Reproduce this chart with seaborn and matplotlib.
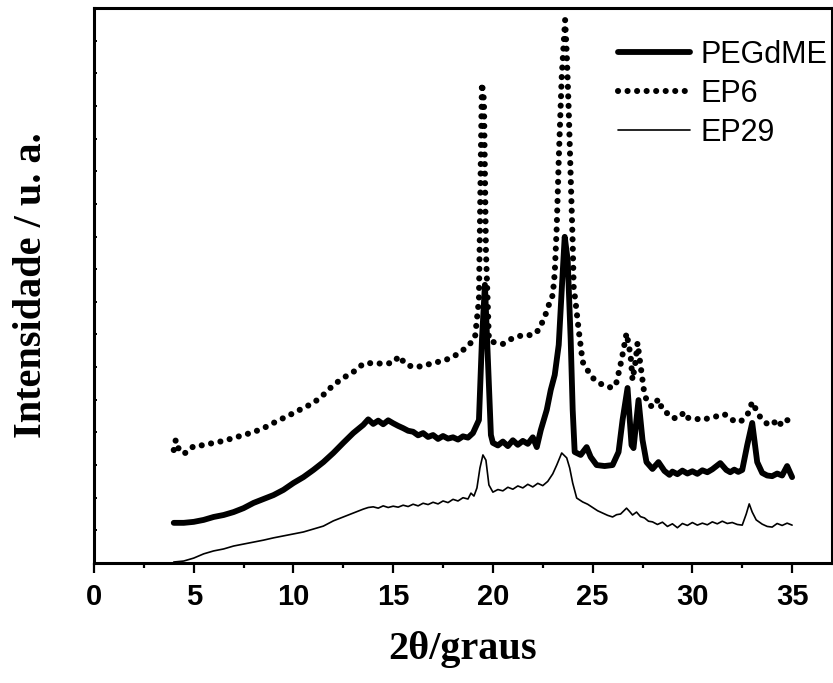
import matplotlib
matplotlib.use("Agg")
import matplotlib.pyplot as plt
from matplotlib.ticker import MultipleLocator, NullFormatter
import seaborn as sns
import pandas as pd

# 2-theta positions (degrees) and intensities (arbitrary units) for each sample
peg_x = [4.0, 4.5, 5.0, 5.5, 6.0, 6.5, 7.0, 7.5, 8.0, 8.5, 9.0, 9.5, 10.0, 10.5, 11.0,
         11.5, 12.0, 12.5, 13.0, 13.5, 13.75, 14.0, 14.25, 14.5, 14.75, 15.0, 15.25,
         15.5, 15.75, 16.0, 16.25, 16.5, 16.75, 17.0, 17.25, 17.5, 17.75, 18.0, 18.25,
         18.5, 18.75, 19.0, 19.3, 19.45, 19.6, 19.75, 19.9, 20.0, 20.25, 20.5, 20.75,
         21.0, 21.25, 21.5, 21.75, 22.0, 22.2, 22.4, 22.7, 22.9, 23.1, 23.3, 23.45, 23.6,
         23.75, 23.9, 24.0, 24.1, 24.4, 24.7, 24.9, 25.2, 25.6, 26.0, 26.3, 26.5, 26.75,
         26.95, 27.05, 27.3, 27.5, 27.7, 28.0, 28.3, 28.6, 28.85, 29.0, 29.25, 29.5,
         29.75, 30.0, 30.25, 30.5, 30.75, 31.0, 31.4, 31.7, 31.9, 32.1, 32.3, 32.5,
         32.75, 33.0, 33.25, 33.5, 33.75, 34.0, 34.25, 34.5, 34.75, 35.0]
peg_y = [123, 123, 126, 132, 141, 147, 156, 168, 184, 196, 208, 224, 245, 263, 285,
         309, 337, 368, 398, 423, 440, 426, 436, 425, 437, 428, 420,
         413, 405, 402, 391, 398, 386, 392, 380, 389, 381, 385, 378,
         388, 384, 398, 438, 683, 852, 622, 392, 368, 360, 372, 358,
         376, 362, 374, 365, 385, 355, 407, 469, 530, 576, 668, 836, 999,
         928, 683, 469, 340, 331, 355, 325, 300, 297, 300, 340, 438, 536,
         361, 352, 499, 377, 309, 288, 309, 282, 270, 280, 272, 283,
         274, 281, 273, 284, 278, 287, 306, 285, 278, 286, 279, 285,
         361, 429, 309, 276, 268, 266, 274, 268, 297, 263]

ep6_x = [4.0, 4.1, 4.3, 4.6, 5.0, 5.5, 6.0, 6.5, 7.0, 7.5, 8.0, 8.5, 9.0, 9.5, 10.0,
         10.5, 11.0, 11.5, 12.0, 12.5, 13.0, 13.5, 14.0, 14.5, 15.0, 15.3, 15.6, 16.0,
         16.5, 17.0, 17.5, 18.0, 18.5, 18.8, 19.1, 19.3, 19.4, 19.45, 19.55, 19.65, 19.8,
         20.0, 20.5, 21.0, 21.5, 22.0, 22.3, 22.6, 22.8, 23.0, 23.1, 23.2, 23.3, 23.45,
         23.55, 23.62, 23.7, 23.8, 23.9, 24.0, 24.05, 24.15, 24.3, 24.5, 24.8, 25.0, 25.5,
         26.0, 26.2, 26.45, 26.7, 26.9, 27.0, 27.15, 27.25, 27.4, 27.6, 27.8, 28.0, 28.3,
         28.5, 28.8, 29.0, 29.3, 29.6, 29.8, 30.0, 30.5, 31.0, 31.3, 31.6, 32.0, 32.4,
         32.6, 32.8, 33.0, 33.2, 33.4, 33.8, 34.1, 34.3, 34.6, 35.0]
ep6_y = [346, 377, 340, 337, 358, 361, 368, 374, 383, 392, 401, 413, 429, 444, 459,
         475, 490, 515, 545, 567, 585, 610, 613, 610, 613, 634, 610, 600,
         603, 613, 619, 631, 652, 668, 689, 806, 1265, 1470, 1418, 959, 683,
         677, 671, 689, 698, 698, 714, 754, 790, 821, 888, 1029, 1234, 1489,
         1593, 1663, 1562, 1388, 1182, 980, 845, 796, 714, 616, 585, 567, 545,
         536, 554, 622, 704, 637, 561, 616, 674, 606, 515, 487, 478, 502,
         469, 456, 444, 444, 462, 444, 444, 438, 447, 450, 456, 438, 432,
         444, 459, 493, 469, 447, 423, 432, 417, 441, 432]

ep29_x = [4.0, 4.5, 5.0, 5.5, 6.0, 6.5, 7.0, 7.5, 8.0, 8.5, 9.0, 9.5, 10.0, 10.5, 11.0,
          11.5, 12.0, 12.5, 13.0, 13.5, 13.75, 14.0, 14.25, 14.5, 14.75, 15.0, 15.25,
          15.5, 15.75, 16.0, 16.25, 16.5, 16.75, 17.0, 17.25, 17.5, 17.75, 18.0, 18.25,
          18.5, 18.75, 18.9, 19.05, 19.2, 19.35, 19.5, 19.65, 19.8, 20.0, 20.25, 20.5,
          20.75, 21.0, 21.25, 21.5, 21.75, 22.0, 22.25, 22.5, 22.75, 23.0, 23.2, 23.45,
          23.7, 23.85, 24.0, 24.2, 24.5, 24.75, 25.0, 25.25, 25.5, 25.75, 26.0, 26.2,
          26.4, 26.7, 26.85, 27.0, 27.2, 27.4, 27.6, 27.8, 28.0, 28.25, 28.5, 28.75,
          29.0, 29.25, 29.5, 29.75, 30.0, 30.25, 30.5, 30.75, 31.0, 31.25, 31.5, 31.75,
          32.0, 32.25, 32.5, 32.7, 32.85, 33.0, 33.2, 33.5, 33.75, 34.0, 34.25, 34.5,
          34.75, 35.0]
ep29_y = [3, 6, 15, 28, 37, 43, 52, 58, 64, 70, 77, 83, 89, 95, 104,
          113, 129, 141, 153, 165, 170, 172, 168, 175, 170, 174, 171,
          177, 173, 180, 175, 183, 179, 186, 181, 190, 185, 195, 190,
          200, 196, 214, 205, 230, 291, 331, 315, 239, 217, 225, 221,
          232, 226, 236, 230, 241, 233, 244, 237, 250, 273, 300, 337,
          322, 291, 245, 199, 187, 180, 170, 160, 153, 146, 141, 148,
          150, 168, 158, 147, 156, 142, 138, 128, 126, 118, 125, 112,
          120, 108, 121, 115, 124, 116, 122, 117, 126, 120, 128, 121,
          124, 118, 116, 150, 181, 156, 132, 119, 112, 110, 121, 115,
          122, 116]

labels = ["PEGdME", "EP6", "EP29"]

sns.set_theme(style="ticks")
plt.rcParams["font.family"] = ["Liberation Sans", "DejaVu Sans"]
plt.rcParams["text.color"] = "black"
plt.rcParams["axes.labelcolor"] = "black"
plt.rcParams["xtick.color"] = "black"
plt.rcParams["ytick.color"] = "black"
plt.rcParams["axes.edgecolor"] = "black"

fig = plt.figure(figsize=(8.33, 6.83), dpi=100)
ax = fig.add_axes([0.1128, 0.1757, 0.886, 0.8126])

peg = pd.DataFrame({"x": peg_x, "y": peg_y})
ep6 = pd.DataFrame({"x": ep6_x, "y": ep6_y})
ep29 = pd.DataFrame({"x": ep29_x, "y": ep29_y})

sns.lineplot(data=peg, x="x", y="y", ax=ax, color="black", lw=4.2,
             estimator=None, sort=False, label=labels[0])
sns.lineplot(data=ep6, x="x", y="y", ax=ax, color="black", lw=4.4,
             estimator=None, sort=False, label=labels[1])
sns.lineplot(data=ep29, x="x", y="y", ax=ax, color="black", lw=1.2,
             estimator=None, sort=False, label=labels[2])

dotted = ax.lines[1]
dotted.set_linestyle((0, (0.01, 1.55)))
dotted.set_dash_capstyle("round")
ax.lines[0].set_solid_joinstyle("round")

ax.set_xlim(0, 37)
ax.set_ylim(0, 1700)
ax.xaxis.set_major_locator(MultipleLocator(5))
ax.xaxis.set_minor_locator(MultipleLocator(2.5))
ax.yaxis.set_major_locator(MultipleLocator(100))
ax.yaxis.set_major_formatter(NullFormatter())

ax.tick_params(axis="x", which="major", direction="out", length=7.5, width=1.6,
               labelsize=21, pad=7, colors="black")
ax.tick_params(axis="x", which="minor", direction="out", length=3.8, width=1.6,
               colors="black")
ax.tick_params(axis="y", which="major", direction="in", length=2.5, width=1.4,
               colors="black")
for lab in ax.get_xticklabels():
    lab.set_fontweight("bold")

for side in ["left", "bottom", "top", "right"]:
    ax.spines[side].set_visible(True)
    ax.spines[side].set_linewidth(2.2)
    ax.spines[side].set_color("black")

serif = ["Liberation Serif", "DejaVu Serif"]
ax.set_xlabel("2θ/graus", fontsize=29, fontweight="bold", family=serif, labelpad=14,
              color="black")
ax.set_ylabel("Intensidade / u. a.", fontsize=29, fontweight="bold", family=serif,
              labelpad=28, color="black")

leg = ax.legend(loc="upper left", bbox_to_anchor=(0.742, 0.942),
                bbox_transform=fig.transFigure, frameon=False, fontsize=22,
                handlelength=2.36, handletextpad=0.33, labelspacing=0.3,
                borderpad=0, borderaxespad=0, labelcolor="black")

fig.savefig("out.png", dpi=100)
